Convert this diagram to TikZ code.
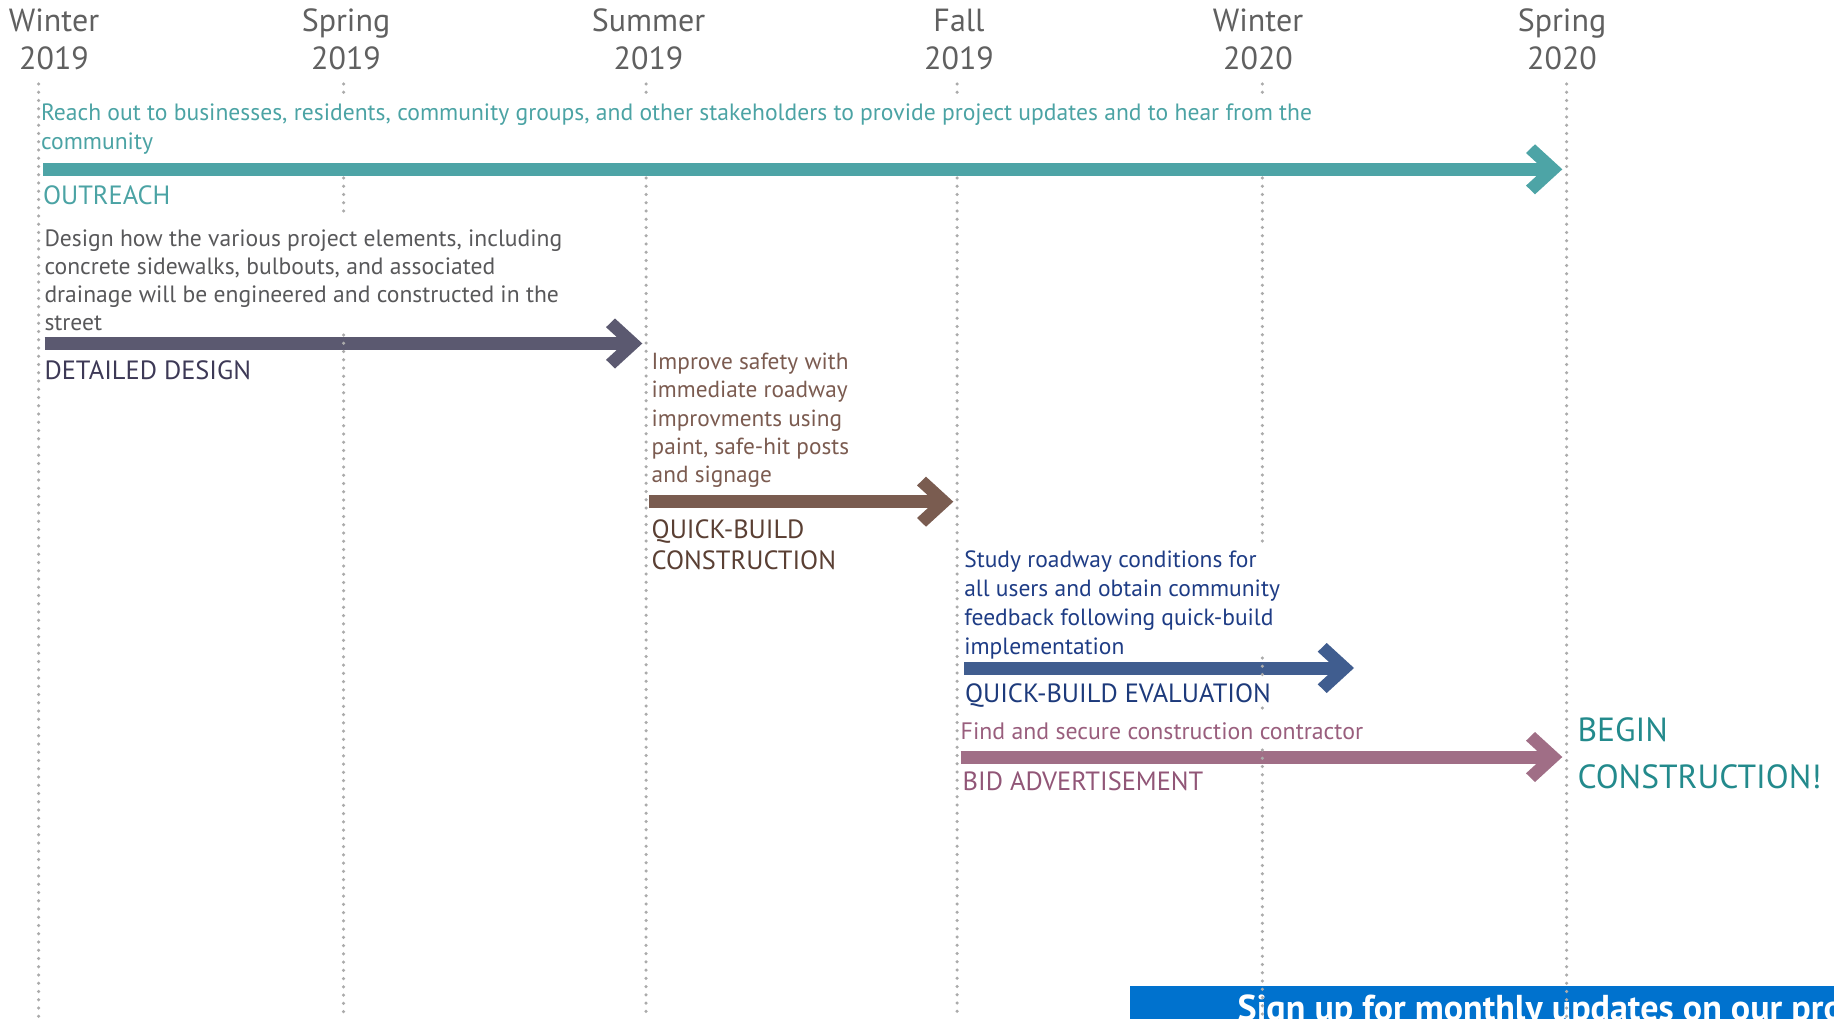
\documentclass[tikz,border=0pt]{standalone}
\usepackage{fontspec}
\setmainfont{PT Sans}
\definecolor{hdr}{HTML}{606060}
\definecolor{dotc}{HTML}{ABABAB}
\definecolor{tealA}{HTML}{4DA4A6}
\definecolor{tealT}{HTML}{4BA3A4}
\definecolor{tealD}{HTML}{238A8C}
\definecolor{ddT}{HTML}{58585A}
\definecolor{ddA}{HTML}{5B5970}
\definecolor{ddL}{HTML}{3D3956}
\definecolor{brT}{HTML}{7B5B50}
\definecolor{brA}{HTML}{7A5C50}
\definecolor{brL}{HTML}{5A3F33}
\definecolor{blT}{HTML}{1E3C85}
\definecolor{blA}{HTML}{405D8F}
\definecolor{blL}{HTML}{1D3A7B}
\definecolor{pkT}{HTML}{995E7D}
\definecolor{pkA}{HTML}{A06E86}
\definecolor{pkL}{HTML}{915677}
\definecolor{bann}{HTML}{0072CE}
\begin{document}
\begin{tikzpicture}[x=1pt,y=-1pt,
  txt/.style={anchor=base west, inner sep=0pt, outer sep=0pt, align=left},
  hdrnode/.style={anchor=base, inner sep=0pt, align=center, text=hdr,
    font=\fontsize{32}{38.4}\selectfont},
  desc/.style={txt, font=\fontsize{23.5}{28.4}\selectfont},
  lbl/.style={txt, font=\fontsize{26.4}{31}\selectfont},
  bar/.style={line width=13pt, line cap=butt},
  dots/.style={dotc, line width=3.5pt, line cap=round, dash pattern=on 0pt off 8.25pt},
  chevron/.pic={\fill[pic actions] (0,0) -- (-27.3,-25) -- (-36.3,-16.3) -- (-18.5,0)
     -- (-36.3,16.3) -- (-27.3,25) -- cycle;}
]
\useasboundingbox (0,0) rectangle (1834,1019);

% banner
\begin{scope}
\clip (0,0) rectangle (1834,1019);
\fill[bann] (1130,986) rectangle (1834,1030);
\node[anchor=base west, inner sep=0pt, text=white, font=\bfseries\fontsize{36}{40}\selectfont] (sign) at (1237.5,1020) {Sign up for monthly updates on our pro};
\end{scope}

% headers (anchored at the baseline of the last line)
\node[hdrnode] (h1) at (54,70) {Winter\\2019};
\node[hdrnode] (h2) at (346,70) {Spring\\2019};
\node[hdrnode] (h3) at (648.5,70) {Summer\\2019};
\node[hdrnode] (h4) at (959,70) {Fall\\2019};
\node[hdrnode] (h5) at (1258,70) {Winter\\2020};
\node[hdrnode] (h6) at (1562,70) {Spring\\2020};

% bar coordinates
\coordinate (o1) at (43,169.3);   \coordinate (o2) at (1562.3,169.3);
\coordinate (d1) at (44.5,343.5); \coordinate (d2) at (642.3,343.5);
\coordinate (q1) at (649,501.7);  \coordinate (q2) at (953.3,501.7);
\coordinate (e1) at (964,668);    \coordinate (e2) at (1354,668);
\coordinate (b1) at (960.7,757);  \coordinate (b2) at (1562.3,757);

\draw[bar, tealA] (o1) -- ([xshift=-18pt]o2);
\pic[fill=tealA] at (o2) {chevron};
\draw[bar, ddA] (d1) -- ([xshift=-18pt]d2);
\pic[fill=ddA] at (d2) {chevron};
\draw[bar, brA] (q1) -- ([xshift=-18pt]q2);
\pic[fill=brA] at (q2) {chevron};
\draw[bar, blA] (e1) -- ([xshift=-18pt]e2);
\pic[fill=blA] at (e2) {chevron};
\draw[bar, pkA] (b1) -- ([xshift=-18pt]b2);
\pic[fill=pkA] at (b2) {chevron};

% dotted season lines
\draw[dots] (38.6,84) -- (38.6,1019);
\draw[dots] (343.5,84) -- (343.5,98) (343.5,178) -- (343.5,217) (343.5,335) -- (343.5,1019);
\draw[dots] (646,84) -- (646,98) (646,178) -- (646,1019);
\draw[dots] (957,84) -- (957,98) (957,178) -- (957,1019);
\draw[dots] (1262.3,84) -- (1262.3,98) (1262.3,178) -- (1262.3,545)
   (1262.3,658) -- (1262.3,678) (1262.3,708) -- (1262.3,713) (1262.3,750) -- (1262.3,1019);
\draw[dots] (1566.7,84) -- (1566.7,1019);

% texts (multi-line nodes anchored at the baseline of their last line)
\node[desc, text=tealT, font=\fontsize{23.6}{29}\selectfont] (reach) at (41,150)
  {Reach out to businesses, residents, community groups, and other stakeholders to provide project updates and to hear from the\\community};
\node[lbl, text=tealT] (outreach) at (43,205) {OUTREACH};

\node[desc, text=ddT, font=\fontsize{23.6}{28.2}\selectfont] (design) at (44.5,330.6)
  {Design how the various project elements, including\\concrete sidewalks, bulbouts, and associated\\drainage will be engineered and constructed in the\\street};
\node[lbl, text=ddL] (ddlbl) at (44.5,379) {DETAILED DESIGN};

\node[desc, text=brT, font=\fontsize{23.3}{28.4}\selectfont] (improve) at (651.7,482.9)
  {Improve safety with\\immediate roadway\\improvments using\\paint, safe-hit posts\\and signage};
\node[lbl, text=brL] (qblbl) at (651.7,569.3) {QUICK-BUILD\\CONSTRUCTION};

\node[desc, text=blT, font=\fontsize{23.5}{28.9}\selectfont] (study) at (964.3,654)
  {Study roadway conditions for\\all users and obtain community\\feedback following quick-build\\implementation};
\node[lbl, text=blL] (evlbl) at (965,702.7) {QUICK-BUILD EVALUATION};

\node[txt, text=pkT, font=\fontsize{23.8}{28}\selectfont] (find) at (960.7,739.3) {Find and secure construction contractor};
\node[lbl, text=pkL] (bidlbl) at (962.7,790) {BID ADVERTISEMENT};

\node[txt, text=tealD, font=\fontsize{33.5}{46.6}\selectfont] (begin) at (1577.5,788.3) {BEGIN\\CONSTRUCTION!};
\end{tikzpicture}
\end{document}
